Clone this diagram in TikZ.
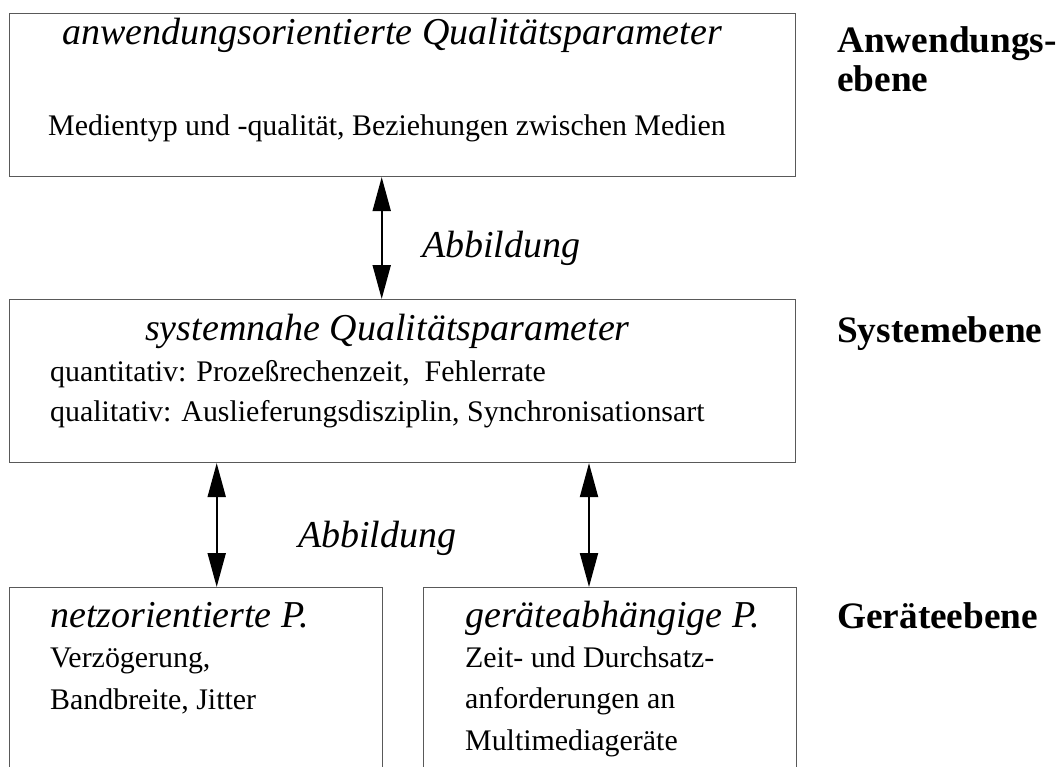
\documentclass[tikz,border=0pt]{standalone}
\usepackage{fontspec}
\setmainfont{Liberation Serif}
\usetikzlibrary{arrows.meta}
\begin{document}
\begin{tikzpicture}[x=1bp,y=-1bp,
  box/.style={draw=black!65, line width=1.1bp, inner sep=0pt, anchor=north west},
  txt/.style={anchor=base west, inner sep=0pt, font=\fontsize{29.9bp}{36bp}\selectfont},
  head/.style={anchor=base west, inner sep=0pt, font=\fontsize{38bp}{44bp}\selectfont\itshape},
  lvl/.style={anchor=base west, inner sep=0pt, font=\fontsize{37.3bp}{44bp}\selectfont\bfseries},
  dbl/.style={{Triangle[length=34bp,width=18bp]}-{Triangle[length=34bp,width=18bp]}, line width=2bp}
]
\useasboundingbox (0,0) rectangle (1061,767);
\clip (0,0) rectangle (1061,767);
% boxes
\node[box, minimum width=786bp, minimum height=163bp] (app) at (9,13) {};
\node[box, minimum width=786bp, minimum height=163bp] (sys) at (9,299) {};
\node[box, minimum width=373bp, minimum height=220bp] (net) at (9,587) {};
\node[box, minimum width=373bp, minimum height=220bp] (dev) at (423,587) {};
% arrow columns
\coordinate (c1) at (381.7,0);
\coordinate (c2) at (216.7,0);
\coordinate (c3) at (589,0);
\draw[dbl] (app.south -| c1) -- (sys.north -| c1);
\draw[dbl] (sys.south -| c2) -- (net.north -| c2);
\draw[dbl] (sys.south -| c3) -- (dev.north -| c3);
% texts in application box
\node[head] (t1) at (62,45) {anwendungsorientierte Qualitätsparameter};
\node[txt] (t2) at (48,135) {Medientyp und -qualität, Beziehungen zwischen Medien};
\node[head] (ab1) at (422,257) {Abbildung};
% system box
\node[head] (t3) at (145,340) {systemnahe Qualitätsparameter};
\node[txt] (t4) at (50,381.7) {quantitativ: Prozeßrechenzeit,\ \ Fehlerrate};
\node[txt] (t5) at (50,421.7) {qualitativ: Auslieferungsdisziplin, Synchronisationsart};
\node[head] (ab2) at (298,547) {Abbildung};
% network box
\node[head] (t6) at (50,627) {netzorientierte P.};
\node[txt] (t7) at (50,667) {Verzögerung,};
\node[txt] (t8) at (50,709) {Bandbreite, Jitter};
% device box
\node[head] (t9) at (465,627) {geräteabhängige P.};
\node[txt] (t10) at (465,667) {Zeit- und Durchsatz-};
\node[txt] (t11) at (465,708) {anforderungen an};
\node[txt] (t12) at (465,750) {Multimediageräte};
% level labels
\node[lvl] (l1) at (837,53) {Anwendungs-};
\node[lvl] (l2) at (837,92) {ebene};
\node[lvl] (l3) at (837,342) {Systemebene};
\node[lvl] (l4) at (837,628) {Geräteebene};
\end{tikzpicture}
\end{document}
